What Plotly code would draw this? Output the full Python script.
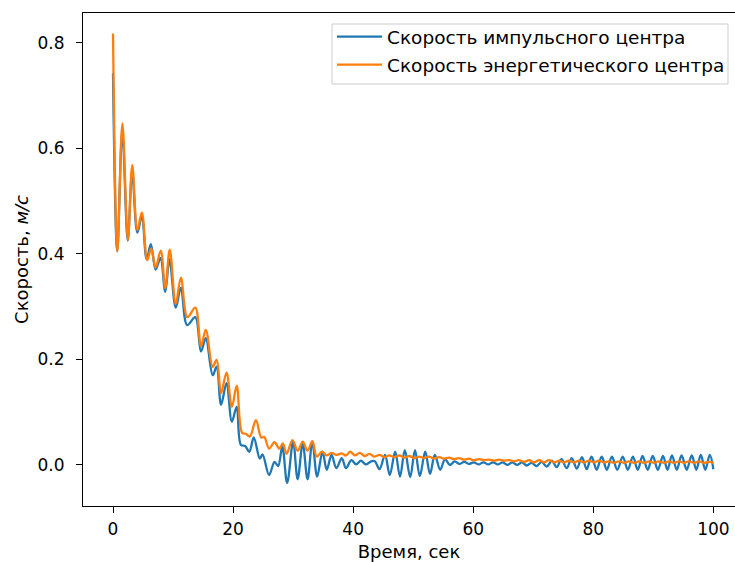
import plotly.graph_objects as go

# Momentum-centre speed: successive turning points (time, s ; speed, m/s)
t_momentum = [
    0.0, 0.7, 1.55, 2.45, 3.2, 4.05, 4.8, 5.6, 6.3, 7.1, 7.9, 8.7, 9.4, 10.45,
    11.3, 12.35, 13.7, 14.65, 15.45, 16.6, 17.25, 18.0, 18.9, 19.8, 20.6, 21.3,
    22.0, 22.7, 23.45, 24.45, 24.9, 26.0, 26.9, 27.5, 28.2, 29.0, 30.0, 30.75,
    31.6, 32.4, 33.2, 34.0, 34.9, 35.6, 36.4, 37.2, 38.1, 38.8, 39.7, 40.5,
    41.3, 42.1, 43.0, 43.6, 44.4, 45.3, 46.1, 47.0, 47.8, 48.6, 49.5, 50.3,
    51.1, 52.0, 52.8, 53.6, 54.5, 55.3, 56.1, 56.9, 57.7, 58.5, 59.3, 60.1,
    60.9, 61.7, 62.5, 63.3, 64.1, 64.9, 65.7, 66.5, 67.3, 68.1, 68.9, 69.7,
    70.55, 71.4, 72.25, 73.1, 73.9, 74.7, 75.55, 76.4, 77.25, 78.1, 78.9, 79.7,
    80.55, 81.4, 82.25, 83.1, 84.0, 84.9, 85.75, 86.6, 87.4, 88.2, 89.05, 89.9,
    90.75, 91.6, 92.35, 93.1, 93.9, 94.7, 95.55, 96.4, 97.15, 97.9, 98.65, 99.4,
    100.0,
]
v_momentum = [
    0.742, 0.405, 0.632, 0.425, 0.555, 0.44, 0.47, 0.39, 0.418, 0.37, 0.392,
    0.328, 0.39, 0.298, 0.336, 0.265, 0.28, 0.215, 0.24, 0.17, 0.186, 0.114,
    0.155, 0.082, 0.11, 0.038, 0.036, 0.025, 0.052, 0.012, 0.02, -0.019, 0.006,
    -0.002, 0.035, -0.034, 0.044, -0.027, 0.041, -0.027, 0.044, -0.022, 0.025,
    -0.009, 0.019, -0.006, 0.013, -0.006, 0.009, 0.001, 0.008, 0.001, 0.007,
    0.007, -0.008, 0.019, -0.019, 0.025, -0.022, 0.028, -0.023, 0.028, -0.021,
    0.025, -0.017, 0.019, -0.009, 0.011, 0.0, 0.007, 0.002, 0.006, 0.002,
    0.005, 0.001, 0.005, 0.001, 0.005, 0.001, 0.005, 0.0, 0.005, 0.0, 0.005,
    -0.001, 0.004, -0.002, 0.006, -0.003, 0.008, -0.004, 0.011, -0.006, 0.013,
    -0.007, 0.015, -0.008, 0.016, -0.009, 0.016, -0.009, 0.016, -0.009, 0.016,
    -0.009, 0.016, -0.009, 0.017, -0.009, 0.017, -0.009, 0.017, -0.009, 0.018,
    -0.009, 0.018, -0.009, 0.018, -0.009, 0.019, -0.009, 0.019, -0.008,
]

# Energy-centre speed: successive turning points (time, s ; speed, m/s)
t_energy = [
    0.0, 0.72, 1.56, 2.48, 3.2, 4.06, 4.8, 5.7, 6.35, 7.1, 7.95, 8.7, 9.45,
    10.45, 11.3, 12.4, 13.7, 14.65, 15.45, 16.6, 17.25, 18.0, 18.9, 19.8, 20.6,
    21.5, 22.1, 22.8, 23.8, 24.7, 25.2, 26.0, 26.9, 27.7, 28.3, 28.9, 29.9,
    30.75, 31.6, 32.4, 33.2, 33.95, 34.8, 35.6, 36.4, 37.2, 38.1, 38.8, 39.5,
    40.3, 41.1, 41.9, 42.7, 43.5, 44.4, 45.2, 46.0, 46.9, 47.7, 48.5, 49.3,
    50.2, 51.0, 51.8, 52.6, 53.5, 54.3, 55.1, 56.0, 56.8, 57.6, 58.5, 59.3,
    60.1, 61.0, 61.8, 62.6, 63.5, 64.3, 65.1, 66.0, 66.8, 67.6, 68.5, 69.3,
    70.1, 71.0, 71.8, 72.6, 73.5, 74.3, 75.1, 75.9, 76.8, 77.6, 78.4, 79.3,
    80.1, 80.9, 81.8, 82.6, 83.4, 84.3, 85.1, 85.9, 86.8, 87.6, 88.4, 89.3,
    90.1, 90.9, 91.8, 92.6, 93.4, 94.3, 95.1, 95.9, 96.8, 97.6, 98.4, 99.3,
    100.0,
]
v_energy = [
    0.817, 0.404, 0.647, 0.426, 0.568, 0.445, 0.478, 0.388, 0.41, 0.374, 0.406,
    0.335, 0.408, 0.305, 0.355, 0.28, 0.298, 0.225, 0.256, 0.186, 0.199, 0.136,
    0.175, 0.11, 0.15, 0.061, 0.059, 0.054, 0.085, 0.052, 0.053, 0.031, 0.043,
    0.031, 0.041, 0.021, 0.047, 0.027, 0.044, 0.027, 0.045, 0.016, 0.025,
    0.018, 0.023, 0.019, 0.022, 0.018, 0.025, 0.018, 0.023, 0.017, 0.021,
    0.016, 0.019, 0.015, 0.018, 0.015, 0.018, 0.014, 0.017, 0.013, 0.016,
    0.013, 0.016, 0.012, 0.015, 0.012, 0.014, 0.011, 0.013, 0.01, 0.012,
    0.009, 0.011, 0.009, 0.01, 0.008, 0.01, 0.008, 0.009, 0.007, 0.009, 0.006,
    0.009, 0.005, 0.009, 0.005, 0.009, 0.005, 0.008, 0.005, 0.008, 0.005,
    0.008, 0.005, 0.008, 0.005, 0.008, 0.005, 0.007, 0.004, 0.007, 0.004,
    0.007, 0.004, 0.007, 0.004, 0.007, 0.004, 0.007, 0.004, 0.007, 0.004,
    0.007, 0.004, 0.007, 0.004, 0.007, 0.004, 0.006, 0.004,
]

x_ticks = [0, 20, 40, 60, 80, 100]
y_ticks = [0.0, 0.2, 0.4, 0.6, 0.8]

FONT = "DejaVu Sans"
TICK_SIZE = 17
TITLE_SIZE = 18
LEGEND_SIZE = 18.5

W, H = 735, 562
M_L, M_R, M_T, M_B = 83, 0, 13, 56
PLOT_W = W - M_L - M_R
PLOT_H = H - M_T - M_B


def px_to_paper(x_px, y_px):
    """Convert page pixel position to paper coordinates."""
    return (x_px - M_L) / PLOT_W, (H - M_B - y_px) / PLOT_H


fig = go.Figure()
fig.add_trace(go.Scatter(
    x=t_momentum, y=v_momentum, mode="lines",
    line=dict(color="#1f77b4", width=2.3, shape="spline", smoothing=1.0),
    name="Скорость импульсного центра", legendgroup="a",
))
fig.add_trace(go.Scatter(
    x=t_energy, y=v_energy, mode="lines",
    line=dict(color="#ff7f0e", width=2.3, shape="spline", smoothing=1.0),
    name="Скорость энергетического центра", legendgroup="b",
))

axis_common = dict(
    showgrid=False, zeroline=False, showline=True, linecolor="black",
    linewidth=1.2, ticks="outside", ticklen=6, tickwidth=1.2, tickcolor="black",
    tickfont=dict(family=FONT, size=TICK_SIZE, color="black"),
)

# legend frame (light grey, semi-opaque white fill)
lx0, ly0 = px_to_paper(332, 84)
lx1, ly1 = px_to_paper(728, 24)
_, leg_top = px_to_paper(0, 18)

fig.update_layout(
    width=W, height=H,
    margin=dict(l=M_L, r=M_R, t=M_T, b=M_B),
    paper_bgcolor="white", plot_bgcolor="white",
    font=dict(family=FONT, size=TITLE_SIZE, color="black"),
    xaxis=dict(
        range=[-5, 103.6], tickvals=x_ticks, mirror=True, ticklabelstandoff=1,
        title=dict(text="Время, сек", font=dict(family=FONT, size=TITLE_SIZE), standoff=8),
        **axis_common,
    ),
    yaxis=dict(
        range=[-0.0777, 0.856], tickvals=y_ticks, tickformat=".1f", mirror=False,
        ticklabelstandoff=8,
        title=dict(text="Скорость, <i>м/с</i>", font=dict(family=FONT, size=TITLE_SIZE), standoff=4),
        **axis_common,
    ),
    legend=dict(
        x=lx0, y=leg_top, xanchor="left", yanchor="top",
        borderwidth=0, bgcolor="rgba(0,0,0,0)",
        font=dict(family=FONT, size=LEGEND_SIZE, color="black"),
        itemwidth=45, tracegroupgap=1,
    ),
    shapes=[dict(
        type="rect", xref="paper", yref="paper",
        x0=lx0, x1=lx1, y0=ly0, y1=ly1,
        line=dict(color="#cccccc", width=1),
        fillcolor="rgba(255,255,255,0.8)", layer="above",
    )],
    showlegend=True,
)

fig.write_html("out.html")
